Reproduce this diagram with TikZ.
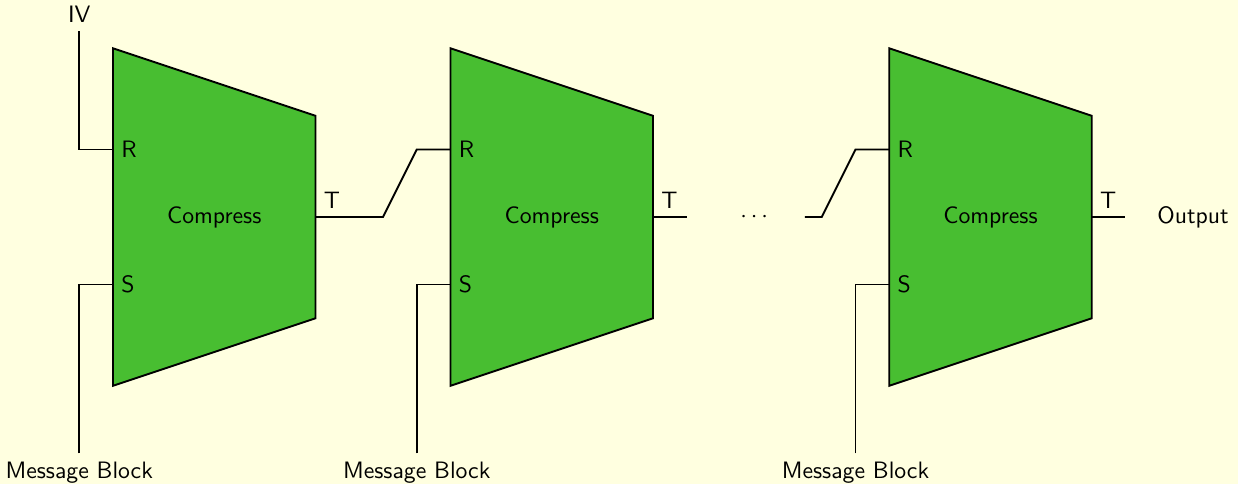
\documentclass[tikz,border=0pt]{standalone}
\usepackage{tikz}
\usetikzlibrary{positioning}
\definecolor{cmpgreen}{RGB}{72,190,49}
\definecolor{bgyellow}{RGB}{255,255,224}
\begin{document}
\begin{tikzpicture}[every node/.style={font=\sffamily},
  blk/.style={draw,thick,fill=cmpgreen},
  wire/.style={thick}]
\fill[bgyellow] (-1.674,-3.956) rectangle (16.667,3.215);
\useasboundingbox (-1.674,-3.956) rectangle (16.667,3.215);
% first compression block
\draw[blk] (0,2.5) -- (3,1.5) -- (3,-1.5) -- (0,-2.5) -- cycle;
\node (c1) at (1.5,0) {Compress};
\coordinate (r1) at (0,1);
\coordinate (s1) at (0,-1);
\coordinate (t1) at (3,0);
\node[right] (r1l) at (r1) {R};
\node[right] (s1l) at (s1) {S};
\node[above right] (t1l) at (t1) {T};
% second compression block
\draw[blk] (5,2.5) -- (8,1.5) -- (8,-1.5) -- (5,-2.5) -- cycle;
\node (c2) at (6.5,0) {Compress};
\coordinate (r2) at (5,1);
\coordinate (s2) at (5,-1);
\coordinate (t2) at (8,0);
\node[right] (r2l) at (r2) {R};
\node[right] (s2l) at (s2) {S};
\node[above right] (t2l) at (t2) {T};
% last compression block
\draw[blk] (11.5,2.5) -- (14.5,1.5) -- (14.5,-1.5) -- (11.5,-2.5) -- cycle;
\node (c3) at (13,0) {Compress};
\coordinate (r3) at (11.5,1);
\coordinate (s3) at (11.5,-1);
\coordinate (t3) at (14.5,0);
\node[right] (r3l) at (r3) {R};
\node[right] (s3l) at (s3) {S};
\node[above right] (t3l) at (t3) {T};
% inputs and outputs
\coordinate (iv) at (-0.5,2.75);
\node[above] (ivl) at (iv) {IV};
\coordinate (m1) at (-0.5,-3.5);
\coordinate (m2) at (4.5,-3.5);
\coordinate (m3) at (11,-3.5);
\node[below] (m1l) at (m1) {Message Block};
\node[below] (m2l) at (m2) {Message Block};
\node[below] (m3l) at (m3) {Message Block};
\coordinate (o2) at (8.5,0);
\coordinate (w3) at (10.25,0);
\coordinate (o3) at (15,0);
\node (dots) at (9.5,0) {$\cdots$};
\node (out) at (16,0) {Output};
\draw[wire] (iv) |- (r1);
\draw[wire] (m1) |- (s1);
\draw[wire] (m2) |- (s2);
\draw[wire] (m3) |- (s3);
\draw[wire] (t1) -- ++(1,0) -- ++(0.5,1) -- (r2);
\draw[wire] (t2) -- (o2);
\draw[wire] (w3) -- ++(0.25,0) -- ++(0.5,1) -- (r3);
\draw[wire] (t3) -- (o3);
\end{tikzpicture}
\end{document}
